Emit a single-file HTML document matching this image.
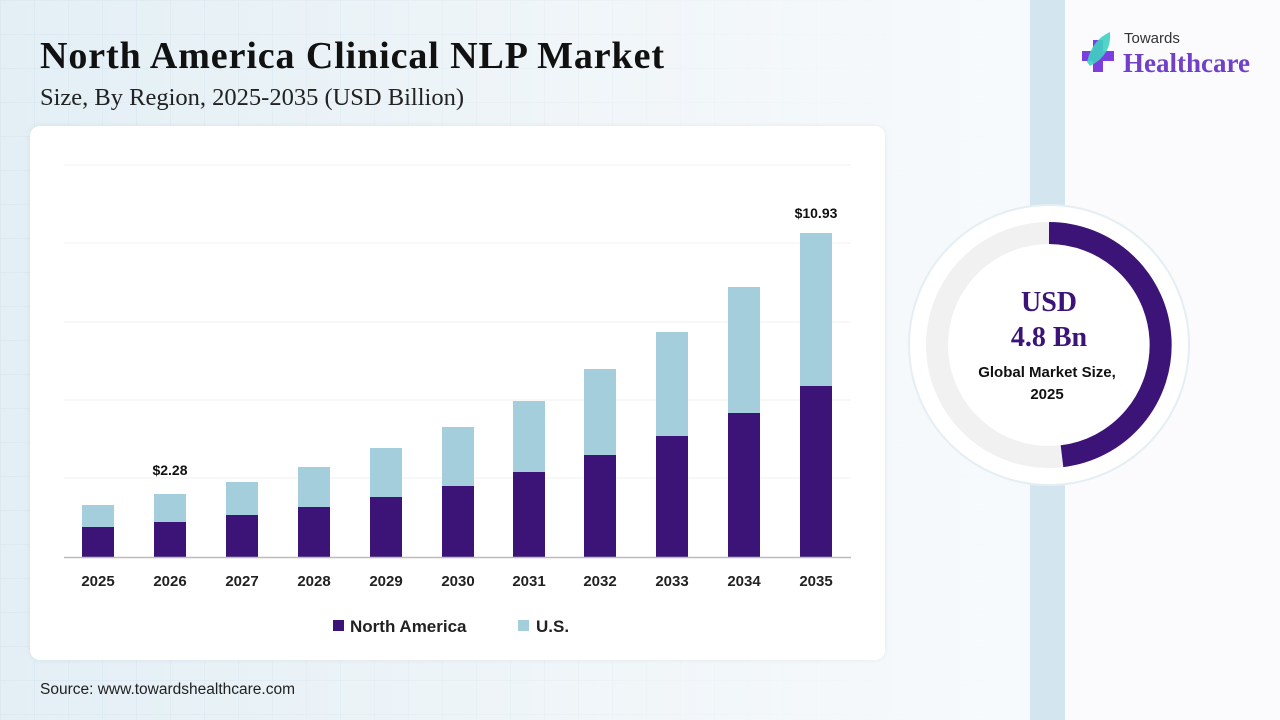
<!DOCTYPE html>
<html><head><meta charset="utf-8"><style>
body{margin:0;width:1280px;height:720px;overflow:hidden;position:relative;font-family:"Liberation Sans",sans-serif;
background:linear-gradient(90deg,#e3eff5 0%,#f1f6f9 50%,#f7fafc 80%);}
.grid{position:absolute;left:0;top:0;width:1030px;height:720px;
background-image:linear-gradient(#d9e6ee 1px,transparent 1px),linear-gradient(90deg,#d9e6ee 1px,transparent 1px);background-size:34px 34px;opacity:.6;
-webkit-mask-image:linear-gradient(90deg,#000 0%,rgba(0,0,0,.3) 60%,transparent 100%);}
.strip{position:absolute;left:1030px;top:0;width:35px;height:720px;background:#d3e6ef;}
.rightbg{position:absolute;left:1065px;top:0;width:215px;height:720px;background:#fbfbfd;}
h1{position:absolute;left:40px;top:34px;margin:0;font:bold 38px "Liberation Serif",serif;color:#111;letter-spacing:0.9px}
.sub{position:absolute;left:40px;top:84px;font:24.5px "Liberation Serif",serif;color:#222}
.card{position:absolute;left:30px;top:126px;width:855px;height:534px;background:#fff;border-radius:10px;box-shadow:0 0 6px rgba(0,0,0,.06)}
.src{position:absolute;left:40px;top:681px;font-size:15.5px;color:#222}
</style></head><body>
<div class="grid"></div><div class="strip"></div><div class="rightbg"></div>
<h1>North America Clinical NLP Market</h1>
<div class="sub">Size, By Region, 2025-2035 (USD Billion)</div>
<div class="card"></div>
<div class="src">Source: www.towardshealthcare.com</div>
<svg width="1280" height="720" style="position:absolute;left:0;top:0">
<g stroke="#f1f1f1" stroke-width="1">
<line x1="64" x2="851" y1="165" y2="165"/><line x1="64" x2="851" y1="243" y2="243"/><line x1="64" x2="851" y1="322" y2="322"/><line x1="64" x2="851" y1="400" y2="400"/><line x1="64" x2="851" y1="478" y2="478"/>
</g>
<g id="bars"></g>
<line x1="64" x2="851" y1="557.5" y2="557.5" stroke="#bbb" stroke-width="1.5"/>
<g font-family="Liberation Sans" font-weight="bold" font-size="15" fill="#222" text-anchor="middle" id="lbl"></g>
<text x="170" y="475" font-family="Liberation Sans" font-weight="bold" font-size="14" text-anchor="middle" fill="#111">$2.28</text>
<text x="816" y="218" font-family="Liberation Sans" font-weight="bold" font-size="14" text-anchor="middle" fill="#111">$10.93</text>
<rect x="333" y="620" width="11" height="11" fill="#3c1478"/>
<text x="350" y="632" font-family="Liberation Sans" font-weight="bold" font-size="17" fill="#222">North America</text>
<rect x="518" y="620" width="11" height="11" fill="#a5cedd"/>
<text x="536" y="632" font-family="Liberation Sans" font-weight="bold" font-size="17" fill="#222">U.S.</text>
<circle cx="1049" cy="345" r="140" fill="#fff" stroke="#e4eef3" stroke-width="2"/>
<circle cx="1049" cy="345" r="112" fill="none" stroke="#f1f1f1" stroke-width="22"/>
<path d="M1049 233 A112 112 0 0 1 1062 456.2" fill="none" stroke="#3c1478" stroke-width="22"/>
<text x="1049" y="311" font-family="Liberation Serif" font-weight="bold" font-size="28" fill="#3c1478" text-anchor="middle">USD</text>
<text x="1049" y="346" font-family="Liberation Serif" font-weight="bold" font-size="28" fill="#3c1478" text-anchor="middle">4.8 Bn</text>
<text x="1047" y="377" font-family="Liberation Sans" font-weight="bold" font-size="15" fill="#111" text-anchor="middle">Global Market Size,</text>
<text x="1047" y="399" font-family="Liberation Sans" font-weight="bold" font-size="15" fill="#111" text-anchor="middle">2025</text>
<rect x="1093" y="40" width="10" height="32" fill="#7b3fe0"/><rect x="1082" y="51" width="32" height="10" fill="#7b3fe0"/>
<path d="M1087 62 Q1092 40 1110 32 Q1112 55 1090 66 Z" fill="#3fd0c0" opacity=".9"/>
<text x="1124" y="43" font-family="Liberation Sans" font-size="15" fill="#333">Towards</text>
<text x="1123" y="72" font-family="Liberation Serif" font-weight="bold" font-size="27" fill="#7040c8">Healthcare</text>
</svg>
<script>
var d=[[98,505,527],[170,494,522],[242,482,515],[314,467,507],[386,448,497],[458,427,486],[529,401,472],[600,369,455],[672,332,436],[744,287,413],[816,233,386]];
var b=document.getElementById('bars'),l=document.getElementById('lbl'),h='';
d.forEach(function(e,i){h+='<rect x="'+(e[0]-16)+'" y="'+e[1]+'" width="32" height="'+(e[2]-e[1])+'" fill="#a5cedd"/><rect x="'+(e[0]-16)+'" y="'+e[2]+'" width="32" height="'+(557-e[2])+'" fill="#3c1478"/>';});
b.innerHTML=h;h='';
d.forEach(function(e,i){h+='<text x="'+e[0]+'" y="586">'+(2025+i)+'</text>';});l.innerHTML=h;
</script>
</body></html>
